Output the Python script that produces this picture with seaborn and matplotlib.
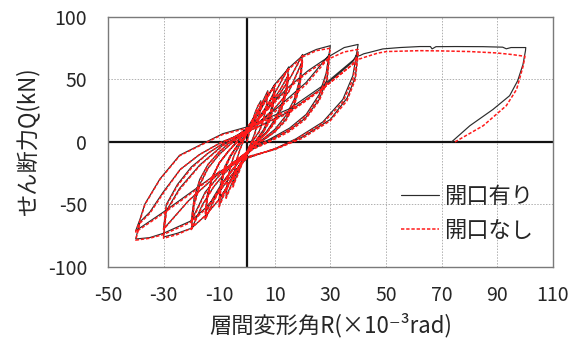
import numpy as np
import pandas as pd
import matplotlib
matplotlib.use("Agg")
import matplotlib.pyplot as plt
import seaborn as sns

# ──────────────────────────────────────────────
# Data (R in 1e-3 rad, Q in kN)
# cyclic part: shared R path, Q for each specimen
# ──────────────────────────────────────────────
cyc_R = [
    0, 1.5, 3, 4, 5,                                                    # up 5
    4.6, 3.8, 2.5, 1, 0, -1.5, -3, -4.2, -5,                            # down 5
    -4.6, -3.8, -2.5, -1, 0, 2, 4, 6, 7.5,                              # up 7.5
    7, 6, 4.5, 2.5, 1, 0, -2, -4, -6, -7.5,                             # down 7.5
    -7, -6, -4.5, -2.5, -1, 0, 2, 4, 6, 8, 10,                          # up 10
    9.3, 8, 6, 3.5, 1, 0, -2, -4, -6, -8, -10,                          # down 10
    -9.3, -8, -6, -3.5, -1, 0, 3, 6, 8, 10,                             # up 10 (2nd)
    9.3, 8, 6, 3.5, 1, 0, -2, -4, -6, -8, -10,                          # down 10 (2nd)
    -9.3, -8, -6, -3.5, -1, 0, 3, 6, 9, 12, 15,                         # up 15
    14.2, 12.5, 10, 7, 3, 0, -3, -6, -9, -12, -15,                      # down 15
    -14.2, -12.5, -10, -6.5, -3, 0, 3, 6, 9, 12, 15,                    # up 15 (2nd)
    14.2, 12.5, 10, 7, 3, 0, -3, -6, -9, -12, -15,                      # down 15 (2nd)
    -14.2, -12.5, -10, -6.5, -3, 0, 4, 8, 12, 16, 20,                   # up 20
    19, 17, 14, 10, 5, 0, -4, -8, -12, -16, -20,                        # down 20
    -19, -17, -14, -10, -5, 0, 5, 10, 15, 20,                           # up 20 (2nd)
    19, 17, 14, 10, 5, 0, -5, -10, -15, -20,                            # down 20 (2nd)
    -19, -17, -14, -10, -5, 0, 5, 10, 15, 20, 25, 30,                   # up 30
    28.5, 26, 21.3, 15.3, 8, 3.3, 0, -5, -10, -15, -20, -25, -30,       # down 30
    -29, -24.2, -17, -8.7, 0, 10.5, 21.3, 29.7,                         # up 30 (2nd)
    28.8, 26, 21, 15, 8, 0, -10.5, -21, -30,                            # down 30 (2nd)
    -29, -25, -20, -14, -7, 0, 8, 15, 22, 30, 35, 40,                   # up 40
    38.1, 34.5, 27.3, 17.7, 10.5, 0, -5, -10, -15, -20, -25, -30, -35, -40,  # down 40
    -38.5, -34.9, -30.1, -24, -17, -9, 0, 15, 27, 38, 40,               # up 40 (2nd)
    39, 36, 30, 20, 10, 0, -10, -20, -30, -40,                          # down 40 (2nd)
    -38.5, -36.7, -31.3, -24.2, -17, -8.7, 0, 15.3, 27.3, 38, 40,       # final reload
]
cyc_Q_open = [
    0, 14, 24, 29, 33,
    24, 14, 5, -3, -8, -16, -24, -30, -35,
    -25, -15, -6, 2, 7, 16, 25, 34, 41,
    29, 19, 9, 2, -4, -8, -17, -26, -36, -44,
    -31, -20, -10, -2, 3, 7, 15, 22, 30, 38, 46,
    32, 20, 10, 2, -5, -9, -16, -23, -31, -40, -51,
    -35, -22, -12, -3, 3, 7, 15, 24, 32, 41,
    28, 17, 8, 1, -5, -9, -16, -23, -31, -39, -46,
    -32, -20, -11, -3, 4, 8, 16, 25, 35, 47, 60,
    44, 30, 18, 8, -1, -8, -16, -25, -34, -47, -62,
    -43, -29, -17, -7, 1, 8, 15, 23, 32, 42, 54,
    40, 27, 16, 7, -1, -8, -16, -24, -33, -44, -57,
    -42, -28, -17, -7, 2, 9, 18, 28, 39, 53, 70,
    50, 34, 21, 10, 1, -8, -16, -25, -36, -50, -70,
    -50, -34, -21, -10, 0, 9, 17, 27, 40, 65,
    45, 30, 18, 8, 0, -9, -17, -27, -40, -63,
    -45, -30, -18, -8, 2, 11, 28, 46, 59, 69, 74, 77,
    55, 38, 22, 11, 2, -3, -10, -28, -46, -59, -69, -73, -76,
    -55, -37, -18.5, -2.6, 8, 26.5, 47.6, 70,
    50, 34, 19, 9, 1, -8, -26, -47, -69.6,
    -50, -34, -20, -9, 1, 10, 28, 44, 57, 69, 75.5, 78,
    53, 34, 16, 2.6, -5, -13, -25, -40, -53, -63, -68, -73, -76.5, -77.6,
    -64, -56, -40, -22, -10, 0, 8, 24, 43, 64, 72,
    52, 35, 18, 4, -6, -12, -24, -40, -56, -71,
    -62, -49.6, -29.6, -10.6, -2.6, 6.6, 12, 26.5, 45, 65, 69,
]
cyc_Q_none = [
    0, 13, 23, 29, 32,
    23, 13, 4, -3, -8, -16, -25, -31, -36,
    -26, -15, -6, 2, 7, 16, 25, 33, 40,
    28, 18, 8, 2, -4, -8, -17, -27, -37, -45,
    -32, -20, -10, -2, 3, 7, 15, 22, 30, 38, 45,
    31, 19, 9, 2, -5, -10, -17, -24, -32, -41, -52,
    -36, -22, -12, -3, 3, 7, 15, 24, 31, 40,
    27, 16, 8, 1, -5, -9, -16, -24, -32, -40, -47,
    -33, -20, -11, -3, 4, 8, 16, 25, 35, 47, 59,
    43, 29, 17, 7, -1, -8, -16, -25, -35, -48, -62,
    -44, -29, -17, -7, 1, 8, 15, 23, 32, 42, 53,
    39, 26, 15, 7, -1, -8, -16, -24, -34, -45, -58,
    -43, -28, -17, -7, 2, 9, 18, 28, 39, 53, 69,
    49, 33, 20, 9, 1, -8, -16, -25, -36, -51, -70,
    -51, -35, -21, -10, 0, 9, 17, 27, 40, 64,
    44, 29, 17, 8, 0, -9, -17, -27, -41, -64,
    -46, -31, -18, -8, 2, 11, 28, 45, 58, 68, 73, 75,
    53, 36, 21, 10, 1, -3, -10, -28, -46, -59, -69, -74, -77,
    -56, -38, -19, -3, 7, 25, 46, 68,
    48, 33, 18, 8, 0, -8, -26, -47, -70,
    -51, -35, -21, -9, 1, 9, 27, 43, 56, 67, 72, 74,
    50, 32, 15, 2, -5, -13, -25, -40, -54, -64, -69, -74, -77, -78.5,
    -65, -57, -41, -22, -10, 0, 8, 23, 42, 62, 70,
    50, 33, 17, 3, -6, -12, -24, -41, -57, -72,
    -63, -50, -30, -11, -3, 6, 11, 25, 43, 62, 67,
]

# monotonic push to +100 and the final unloading
mono_R_open = [40.6, 42, 44.2, 48.9, 55, 62.2, 66, 66.6, 68, 75, 85, 92, 93.3, 95, 100.3,
               100.2, 99.3, 97.4, 94.5, 88.5, 80.2, 73.6]
mono_Q_open = [69, 70.5, 71.7, 74.4, 75.5, 76.3, 76.3, 74.4, 76.2, 76.3, 76.2, 75.8, 74.5, 75.5, 75.5,
               73, 62, 49, 37, 26, 13, 0]
mono_R_none = [40.6, 42, 44.2, 47, 50.2, 62.2, 70, 80, 89.7, 95, 100,
               99.4, 97, 93.3, 85, 74.8]
mono_Q_none = [66.4, 67.5, 69, 71, 72.3, 73, 72.8, 72.3, 71.2, 70, 68.5,
               61, 42, 29, 13, 0]

labels = ["開口有り", "開口なし"]
x_ticks = [-50, -30, -10, 10, 30, 50, 70, 90, 110]
y_ticks = [-100, -50, 0, 50, 100]

assert len(cyc_R) == len(cyc_Q_open) == len(cyc_Q_none)

# ──────────────────────────────────────────────
# Build tidy frames
# ──────────────────────────────────────────────
df_open = pd.DataFrame({"R": cyc_R + mono_R_open, "Q": cyc_Q_open + mono_Q_open})
df_none = pd.DataFrame({"R": cyc_R + mono_R_none, "Q": cyc_Q_none + mono_Q_none})

# ──────────────────────────────────────────────
# Plot
# ──────────────────────────────────────────────
sns.set_theme(style="white")
plt.rcParams["font.family"] = ["Noto Sans CJK JP", "DejaVu Sans"]
plt.rcParams["axes.unicode_minus"] = False

fig, ax = plt.subplots(figsize=(5.71, 3.45), dpi=100)
fig.subplots_adjust(left=0.189, right=0.968, bottom=0.226, top=0.951)

sns.lineplot(data=df_open, x="R", y="Q", sort=False, estimator=None, ax=ax,
             color="#2b2b2b", linewidth=0.85, label=labels[0])
sns.lineplot(data=df_none, x="R", y="Q", sort=False, estimator=None, ax=ax,
             color="#ff1a1a", linewidth=1.1, linestyle=(0, (2.2, 1.2)), label=labels[1])

ax.set_xlim(-50, 110)
ax.set_ylim(-100, 100)
ax.set_xticks(x_ticks)
ax.set_yticks(y_ticks)
ax.tick_params(axis="both", labelsize=14, length=0, colors="#262626")
ax.tick_params(axis="x", pad=13)
ax.tick_params(axis="y", pad=15)
ax.grid(True, color="#b0b0b0", linestyle=(0, (1.5, 1.5)), linewidth=0.7)
ax.axhline(0, color="#111111", linewidth=1.6, zorder=1)
ax.axvline(0, color="#111111", linewidth=1.6, zorder=1)
for sp in ax.spines.values():
    sp.set_color("#7a7a7a")
    sp.set_linewidth(1.0)

ax.set_xlabel("層間変形角R(×10⁻³rad)", fontsize=16, color="#262626", labelpad=5)
ax.set_ylabel("せん断力Q(kN)", fontsize=16, color="#262626", labelpad=6)

leg = ax.legend(loc="center left", bbox_to_anchor=(0.615, 0.214), frameon=False,
                fontsize=16, handlelength=1.7, handletextpad=0.2, labelspacing=0.5)
for t in leg.get_texts():
    t.set_color("#262626")

fig.savefig("out.png", dpi=100)
